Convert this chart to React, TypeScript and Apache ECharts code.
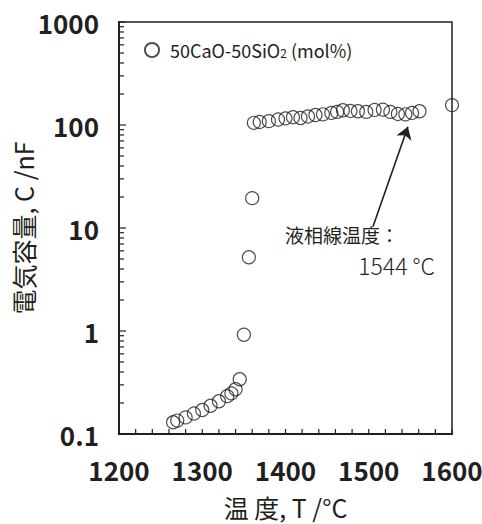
import React, { useEffect, useRef } from "react";
import * as echarts from "echarts";

const seriesName = "50CaO-50SiO2 (mol%)";
const tempLow = [1265, 1270, 1280, 1290, 1300, 1310, 1320, 1330, 1335, 1340, 1345, 1350, 1356, 1360];
const capLow = [0.13, 0.135, 0.145, 0.158, 0.171, 0.188, 0.208, 0.233, 0.248, 0.272, 0.34, 0.92, 5.2, 19.5];
const tempHigh = [1362, 1369, 1380, 1391, 1400, 1409, 1418, 1427, 1436, 1445, 1455, 1462, 1469, 1478, 1487, 1497, 1507, 1517, 1526, 1535, 1544, 1552, 1561, 1600];
const capHigh = [105, 107, 109, 113, 116, 119, 117, 121, 125, 127, 131, 134, 139, 137, 136, 134, 140, 141, 134, 128, 127, 131, 136, 156];
const xTicks = [1200, 1300, 1400, 1500, 1600];
const xMinorStep = 20;
const yTicks = [0.1, 1, 10, 100, 1000];
const yMinorMultipliers = [2, 3, 4, 5, 6, 7, 8, 9];
const arrowFrom = [1505, 10.3];
const arrowTo = [1547, 96];
const noteLine1 = "液相線温度：";
const noteLine2 = "1544 °C";

const INK = "#231f20";
const FONT = "'Noto Sans CJK JP', 'Noto Sans', sans-serif";

export default function App() {
  const ref = useRef<HTMLDivElement>(null);
  useEffect(() => {
    if (!ref.current) return;
    const chart = echarts.init(ref.current, undefined, { renderer: "svg" });
    const points = [
      ...tempLow.map((t, i) => [t, capLow[i]]),
      ...tempHigh.map((t, i) => [t, capHigh[i]]),
    ];
    const xMin = xTicks[0];
    const xMax = xTicks[xTicks.length - 1];
    const yMin = yTicks[0];
    const option: any = {
      animation: false,
      backgroundColor: "#fff",
      grid: {
        left: 119,
        right: 30,
        top: 22,
        bottom: 90,
        containLabel: false,
        outerBoundsMode: "none",
        show: true,
        borderColor: INK,
        borderWidth: 1.5,
        backgroundColor: "transparent",
      },
      legend: {
        show: true,
        left: 139,
        top: 36,
        itemWidth: 14,
        itemHeight: 14,
        data: [
          {
            name: seriesName,
            icon: "emptyCircle",
            itemStyle: { color: INK, borderColor: INK, borderWidth: 1 },
          },
        ],
        formatter: () => "50CaO-50SiO{sub|2} (mol%)",
        textStyle: {
          fontFamily: FONT,
          fontSize: 18,
          color: INK,
          padding: [0, 0, 0, 6],
          rich: {
            sub: { fontFamily: FONT, fontSize: 12, color: INK, verticalAlign: "bottom", padding: [6, 0, 0, 0] },
          },
        },
      },
      xAxis: {
        type: "value",
        min: xMin,
        max: xMax,
        interval: 100,
        name: "温 度, T /°C",
        nameLocation: "middle",
        nameGap: 60,
        nameMoveOverlap: false,
        nameTextStyle: { fontFamily: FONT, fontSize: 25, color: INK },
        axisLine: { show: true, lineStyle: { color: INK, width: 2 } },
        axisTick: { show: false },
        minorTick: { show: false },
        splitLine: { show: false },
        axisLabel: {
          fontFamily: FONT,
          fontSize: 26,
          fontWeight: "bold",
          color: INK,
          margin: 22,
          formatter: (v: number) => String(v),
        },
      },
      yAxis: {
        type: "log",
        logBase: 10,
        min: yMin,
        max: yTicks[yTicks.length - 1],
        name: "電気容量, C /nF",
        nameLocation: "middle",
        nameGap: 84,
        nameMoveOverlap: false,
        nameRotate: 90,
        nameTextStyle: { fontFamily: FONT, fontSize: 25, color: INK },
        axisLine: { show: true, lineStyle: { color: INK, width: 2 } },
        axisTick: { show: false },
        minorTick: { show: false },
        splitLine: { show: false },
        axisLabel: {
          fontFamily: FONT,
          fontSize: 26,
          fontWeight: "bold",
          color: INK,
          margin: 20,
          formatter: (v: number) => String(v),
        },
      },
      series: [
        {
          name: seriesName,
          type: "scatter",
          data: points,
          symbol: "circle",
          symbolSize: 13,
          itemStyle: { color: "rgba(0,0,0,0)", borderColor: INK, borderWidth: 1.2 },
          markLine: {
            silent: true,
            symbol: ["none", "arrow"],
            symbolSize: 12,
            label: { show: false },
            itemStyle: { color: INK },
            lineStyle: { color: INK, width: 1.6, type: "solid" },
            data: [[{ coord: arrowFrom }, { coord: arrowTo }]],
          },
        },
      ],
    };
    chart.setOption(option);

    const tickLines: any[] = [];
    const addLine = (x1: number, y1: number, x2: number, y2: number) =>
      tickLines.push({
        type: "line",
        silent: true,
        z: 10,
        shape: { x1, y1, x2, y2 },
        style: { stroke: INK, lineWidth: 1.2 },
      });
    for (let v = xMin; v <= xMax; v += xMinorStep) {
      const p = chart.convertToPixel({ gridIndex: 0 }, [v, yMin]) as number[];
      if (p && isFinite(p[0])) addLine(p[0], p[1], p[0], p[1] - 5);
    }
    yTicks.forEach((d, i) => {
      const p = chart.convertToPixel({ gridIndex: 0 }, [xMin, d]) as number[];
      if (p && isFinite(p[1])) addLine(p[0], p[1], p[0] + 7, p[1]);
      if (i < yTicks.length - 1) {
        yMinorMultipliers.forEach((m) => {
          const q = chart.convertToPixel({ gridIndex: 0 }, [xMin, d * m]) as number[];
          if (q && isFinite(q[1])) addLine(q[0], q[1], q[0] + 5, q[1]);
        });
      }
    });

    chart.setOption({
      graphic: [
        {
          type: "text",
          left: 285,
          top: 225,
          style: { text: noteLine1, fontFamily: FONT, fontSize: 19, fill: INK },
        },
        {
          type: "text",
          right: 47,
          top: 253,
          style: { text: noteLine2, fontFamily: FONT, fontSize: 23, fontWeight: 300, fill: INK },
        },
        ...tickLines,
      ],
    });
    return () => chart.dispose();
  }, []);
  return <div ref={ref} style={{ position: "fixed", left: 0, top: 0, width: 482, height: 524 }} />;
}
